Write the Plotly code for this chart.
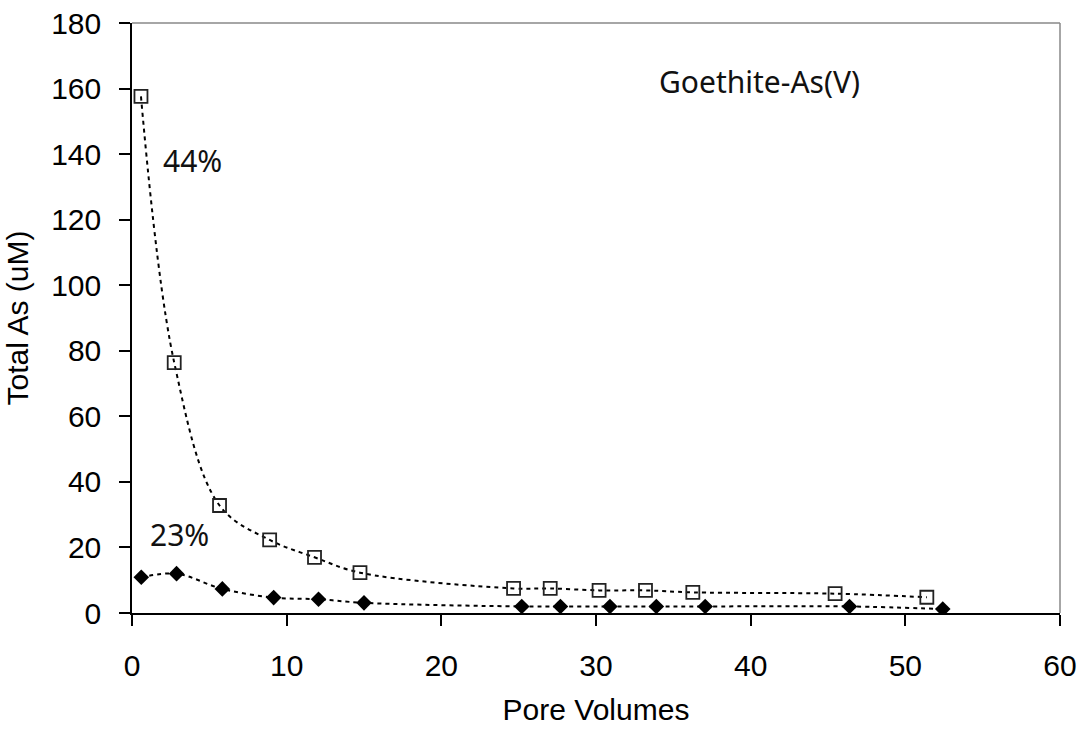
import plotly.graph_objects as go

# Data
pv_total = [0.58, 2.73, 5.66, 8.9, 11.8, 14.74, 24.67, 27.04, 30.2, 33.2, 36.26, 45.46, 51.39]
as_total = [157.6, 76.4, 32.8, 22.3, 17.0, 12.3, 7.5, 7.5, 6.9, 6.9, 6.3, 5.9, 4.8]

pv_low = [0.6, 2.88, 5.84, 9.16, 12.06, 15.0, 25.2, 27.7, 30.9, 33.9, 37.06, 46.39, 52.42]
as_low = [10.9, 12.0, 7.35, 4.7, 4.2, 3.1, 2.0, 2.0, 2.0, 2.0, 2.0, 2.0, 1.2]

x_ticks = [0, 10, 20, 30, 40, 50, 60]
y_ticks = [0, 20, 40, 60, 80, 100, 120, 140, 160, 180]

labels = ["44%", "23%", "Goethite-As(V)"]
label_x = [3.9, 3.04, 40.6]
label_y = [138.0, 24.0, 162.3]

fig = go.Figure()
fig.add_trace(go.Scatter(
    x=pv_total, y=as_total, mode="lines+markers",
    line=dict(color="black", width=2, dash="4px,4px", shape="spline", smoothing=1.0),
    marker=dict(symbol="square-open", size=13, color="#222222", line=dict(width=1.8, color="#222222")),
    showlegend=False,
))
fig.add_trace(go.Scatter(
    x=pv_low, y=as_low, mode="lines+markers",
    line=dict(color="black", width=2, dash="4px,4px", shape="spline", smoothing=1.0),
    marker=dict(symbol="diamond", size=12, color="black", line=dict(width=0)),
    showlegend=False,
))

for t, xx, yy in zip(labels, label_x, label_y):
    fig.add_annotation(x=xx, y=yy, text=t, showarrow=False,
                       font=dict(family="Noto Sans", size=30, color="#111111"),
                       xanchor="center", yanchor="middle")

# gray frame on top and right
fig.add_shape(type="line", xref="paper", yref="paper", x0=0, x1=1, y0=1, y1=1,
              line=dict(color="#888888", width=1.5))
fig.add_shape(type="line", xref="paper", yref="paper", x0=1, x1=1, y0=0, y1=1,
              line=dict(color="#888888", width=1.5))

axis_font = dict(family="Liberation Sans, Arial", size=30, color="black")
fig.update_layout(
    width=1082, height=733,
    margin=dict(l=132, r=22, t=23, b=120),
    paper_bgcolor="white", plot_bgcolor="white",
    xaxis=dict(
        range=[0, 60], tickvals=x_ticks, showgrid=False, zeroline=False,
        showline=True, linecolor="black", linewidth=1.5, automargin=False,
        ticks="outside", ticklen=11, tickwidth=1.5, tickcolor="black",
        tickfont=axis_font, ticklabelstandoff=14,
        title=dict(text="Pore Volumes", font=axis_font, standoff=18),
    ),
    yaxis=dict(
        range=[0, 180], tickvals=y_ticks, showgrid=False, zeroline=False,
        showline=True, linecolor="black", linewidth=1.5, automargin=False,
        ticks="outside", ticklen=11, tickwidth=1.5, tickcolor="black",
        tickfont=axis_font, ticklabelstandoff=12,
        title=dict(text="Total As (uM)", font=axis_font, standoff=14),
    ),
)

fig.write_html("out.html",
               config={"displayModeBar": False},
               post_script="document.body.style.margin='0px';document.body.style.padding='0px';document.body.style.overflow='hidden';")
